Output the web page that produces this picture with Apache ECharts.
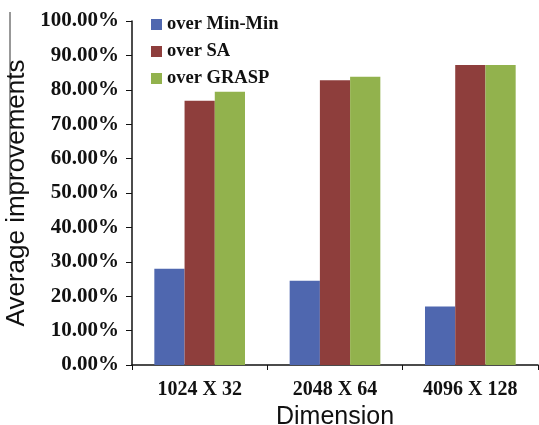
<!DOCTYPE html>
<html>
<head>
<meta charset="utf-8">
<script src="https://cdn.jsdelivr.net/npm/echarts@6/dist/echarts.min.js"></script>
<style>html,body{margin:0;padding:0;background:#fff}#c{width:539px;height:425px}</style>
</head>
<body>
<div id="c"></div>
<script>
var categories = ['1024 X 32', '2048 X 64', '4096 X 128'];
var seriesNames = ['over Min-Min', 'over SA', 'over GRASP'];
var overMinMin = [0.280, 0.245, 0.170];
var overSA = [0.768, 0.828, 0.872];
var overGRASP = [0.794, 0.838, 0.872];
var colors = ['#4F67AF', '#8E3E3C', '#92B24D'];

var serif = '"Liberation Serif", "Times New Roman", serif';
var sans = '"Liberation Sans", Arial, sans-serif';
var chart = echarts.init(document.getElementById('c'), null, {renderer: 'canvas'});
var values = [overMinMin, overSA, overGRASP];
chart.setOption({
  animation: false,
  backgroundColor: '#fff',
  grid: {left: 132, right: 1, top: 21, bottom: 60, containLabel: false, outerBoundsMode: 'none'},
  legend: {
    orient: 'vertical', left: 151, top: 15, padding: 0, itemWidth: 11, itemHeight: 11, itemGap: 8,
    icon: 'rect',
    textStyle: {fontFamily: serif, fontWeight: 'bold', fontSize: 18.5, color: '#111'},
    data: seriesNames
  },
  xAxis: {
    type: 'category', data: categories,
    name: 'Dimension', nameLocation: 'middle', nameGap: 36,
    nameTextStyle: {fontFamily: sans, fontSize: 25, color: '#111'},
    axisLine: {lineStyle: {color: '#111', width: 1.5}},
    axisTick: {show: true, length: 5, lineStyle: {color: '#111'}},
    axisLabel: {fontFamily: serif, fontWeight: 'bold', fontSize: 20, color: '#111', margin: 15}
  },
  yAxis: {
    type: 'value', min: 0, max: 1, interval: 0.1,
    name: 'Average improvements', nameLocation: 'middle', nameGap: 96, nameRotate: 90,
    nameTextStyle: {fontFamily: sans, fontSize: 26, color: '#111'},
    axisLine: {show: true, lineStyle: {color: '#111', width: 1.5}},
    axisTick: {show: true, length: 6, lineStyle: {color: '#111'}},
    splitLine: {show: false},
    axisLabel: {
      fontFamily: serif, fontWeight: 'bold', fontSize: 21, color: '#111', margin: 13,
      formatter: function (v) { return (v * 100).toFixed(2) + '%'; }
    }
  },
  series: seriesNames.map(function (n, i) {
    return {
      name: n, type: 'bar', data: values[i], barGap: '0%', barCategoryGap: '33%',
      itemStyle: {color: colors[i]}
    };
  }),
  graphic: [{type: 'line', shape: {x1: 10, y1: 12, x2: 10, y2: 195}, style: {stroke: '#333', lineWidth: 1}}]
});
</script>
</body>
</html>
